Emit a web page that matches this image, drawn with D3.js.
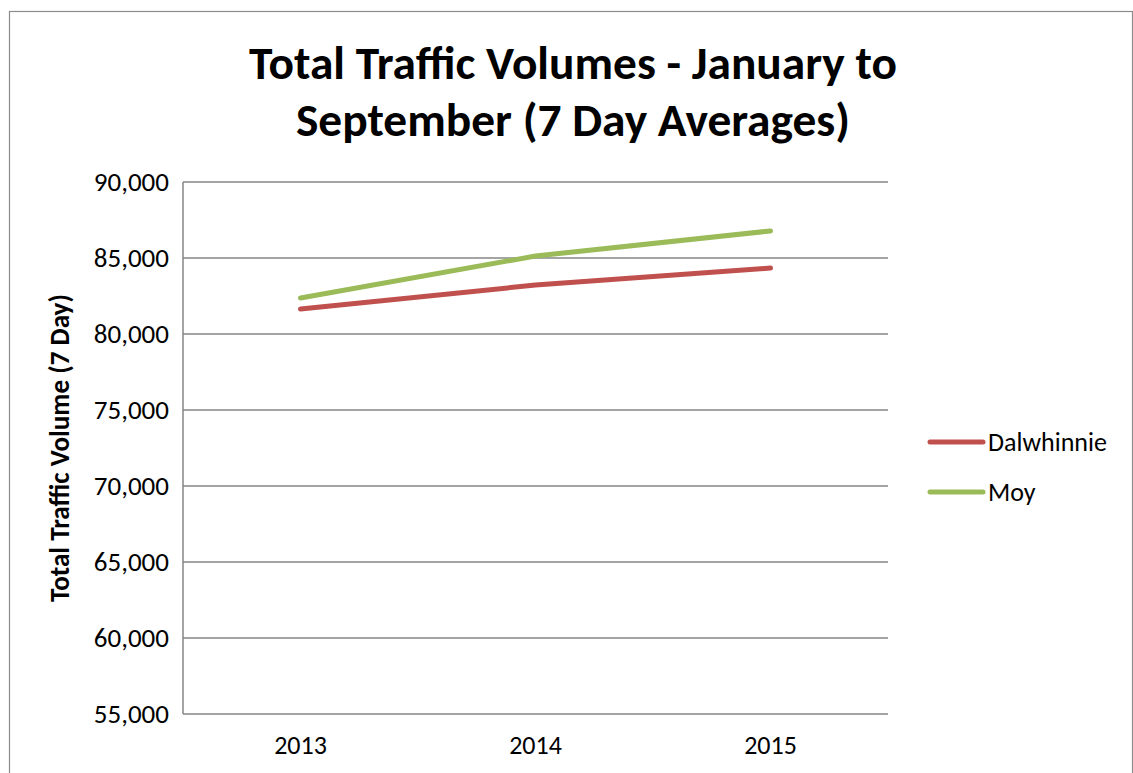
<!DOCTYPE html>
<html>
<head>
<meta charset="utf-8">
<script src="https://cdn.jsdelivr.net/npm/d3@7"></script>
<style>
  body { margin: 0; background: #fff; }
  text { font-family: Carlito, Lato, sans-serif; fill: #000; }
</style>
</head>
<body>
<div id="chart"></div>
<script>
var years = ["2013", "2014", "2015"];
var dalwhinnie = [81650, 83220, 84340];
var moy = [82370, 85130, 86780];
var seriesNames = ["Dalwhinnie", "Moy"];
var seriesColors = ["#C0504D", "#9BBB59"];
var yTicks = [55000, 60000, 65000, 70000, 75000, 80000, 85000, 90000];

var series = [
    {name: seriesNames[0], color: seriesColors[0], values: dalwhinnie},
    {name: seriesNames[1], color: seriesColors[1], values: moy}
];

var W = 1133, H = 773;
var margin = {top: 182, right: 245, bottom: 59, left: 183};
var width = W - margin.left - margin.right;
var height = H - margin.top - margin.bottom;

var svg = d3.select("#chart").append("svg")
    .attr("width", W)
    .attr("height", H);

// outer chart border
svg.append("rect")
    .attr("x", 9.5).attr("y", 11.5)
    .attr("width", 1123).attr("height", 800)
    .attr("fill", "none")
    .attr("stroke", "#8c8c8c")
    .attr("stroke-width", 1.2);

// shrink or grow a text's font so it takes the width seen on the reference
function fitText(sel, target, base) {
    var len = sel.node().getComputedTextLength();
    sel.style("font-size", (base * target / len) + "px");
}

// title
var titleLines = ["Total Traffic Volumes - January to", "September (7 Day Averages)"];
var title = svg.append("text")
    .attr("text-anchor", "middle")
    .style("font-weight", "bold")
    .style("font-size", "40px");
title.selectAll("tspan")
    .data(titleLines)
    .enter().append("tspan")
    .attr("x", 573)
    .attr("y", (d, i) => 79 + i * 57)
    .text(d => d);
var firstLen = title.select("tspan").node().getComputedTextLength();
title.style("font-size", (40 * 648 / firstLen) + "px");

var g = svg.append("g")
    .attr("transform", "translate(" + margin.left + "," + margin.top + ")");

var x = d3.scaleBand()
    .domain(years)
    .range([0, width]);

var y = d3.scaleLinear()
    .domain([55000, 90000])
    .range([height, 0]);

// gridlines
g.append("g")
    .selectAll("line")
    .data(yTicks)
    .enter().append("line")
    .attr("x1", 0).attr("x2", width)
    .attr("y1", d => y(d)).attr("y2", d => y(d))
    .attr("stroke", "#868686")
    .attr("stroke-width", 1.5);

// left axis line
g.append("line")
    .attr("x1", 0).attr("x2", 0)
    .attr("y1", 0).attr("y2", height)
    .attr("stroke", "#868686")
    .attr("stroke-width", 1.5);

var fmt = d3.format(",");

var yAxis = g.append("g")
    .call(d3.axisLeft(y).tickValues(yTicks).tickFormat(fmt).tickSize(0).tickPadding(14));
yAxis.select(".domain").remove();
yAxis.selectAll("text")
    .style("font-size", "27px")
    .attr("fill", "#000");

var xAxis = g.append("g")
    .attr("transform", "translate(0," + height + ")")
    .call(d3.axisBottom(x).tickSize(0).tickPadding(22));
xAxis.select(".domain").remove();
xAxis.selectAll("text")
    .style("font-size", "26px")
    .attr("fill", "#000");

// y axis title
var yTitle = g.append("text")
    .attr("transform", "translate(" + (-114) + "," + (height / 2) + ") rotate(-90)")
    .attr("text-anchor", "middle")
    .style("font-size", "20px")
    .style("font-weight", "bold")
    .text("Total Traffic Volume (7 Day)");
fitText(yTitle, 308, 20);

var line = d3.line()
    .x((d, i) => x(years[i]) + x.bandwidth() / 2)
    .y(d => y(d));

g.selectAll(".series")
    .data(series)
    .enter().append("path")
    .attr("class", "series")
    .attr("d", d => line(d.values))
    .attr("fill", "none")
    .attr("stroke", d => d.color)
    .attr("stroke-width", 5)
    .attr("stroke-linecap", "round")
    .attr("stroke-linejoin", "round");

// legend
var legend = svg.append("g")
    .selectAll("g")
    .data(series)
    .enter().append("g")
    .attr("transform", (d, i) => "translate(930," + (442 + i * 50) + ")");

legend.append("line")
    .attr("x1", 0).attr("x2", 53)
    .attr("stroke", d => d.color)
    .attr("stroke-width", 5)
    .attr("stroke-linecap", "round");

legend.append("text")
    .attr("x", 58)
    .attr("y", 9)
    .style("font-size", "26px")
    .text(d => d.name);
</script>
</body>
</html>
